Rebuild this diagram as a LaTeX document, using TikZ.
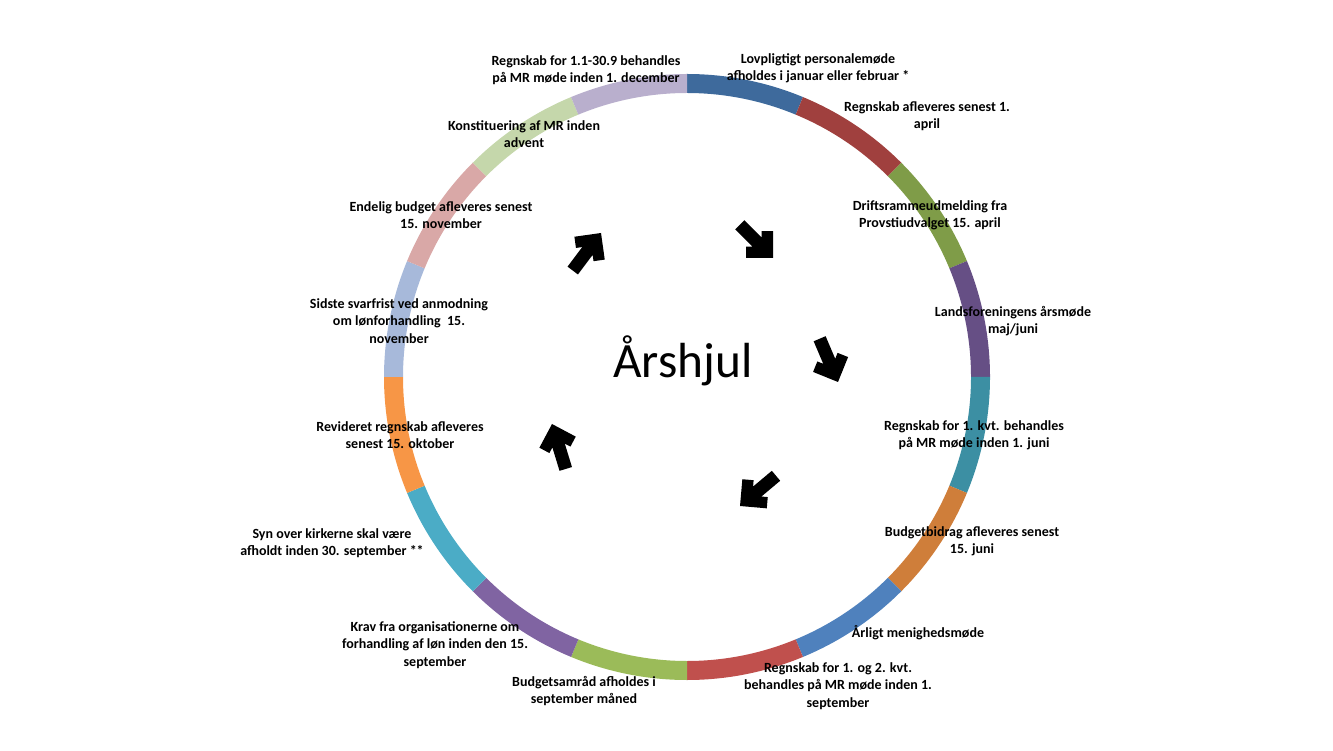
\documentclass[tikz,border=0pt]{standalone}
\usepackage{fontspec}
\setmainfont{Carlito}
\begin{document}
\begin{tikzpicture}[x=0.75pt,y=0.75pt,
  lbl/.style={align=center,inner sep=0pt,font=\fontsize{10.5}{12.9}\selectfont\bfseries},
  chev/.style={fill=black}]
\useasboundingbox (0,0) rectangle (1333,750);
\definecolor{s1}{HTML}{3E6A9C}
\definecolor{s2}{HTML}{A0403E}
\definecolor{s3}{HTML}{7F9C48}
\definecolor{s4}{HTML}{664F85}
\definecolor{s5}{HTML}{3C8FA3}
\definecolor{s6}{HTML}{CF7E3A}
\definecolor{s7}{HTML}{4F81BD}
\definecolor{s8}{HTML}{C0504D}
\definecolor{s9}{HTML}{9BBB59}
\definecolor{s10}{HTML}{8064A2}
\definecolor{s11}{HTML}{4BACC6}
\definecolor{s12}{HTML}{F79646}
\definecolor{s13}{HTML}{A7B9DA}
\definecolor{s14}{HTML}{D9A8A7}
\definecolor{s15}{HTML}{C5D7AB}
\definecolor{s16}{HTML}{B9AFCD}
\begin{scope}[shift={(687,373)}]
\foreach \i/\c in {0/s1,1/s2,2/s3,3/s4,4/s5,5/s6,6/s7,7/s8,8/s9,9/s10,10/s11,11/s12,12/s13,13/s14,14/s15,15/s16}{
  \pgfmathsetmacro{\sa}{90-22.5*\i}
  \pgfmathsetmacro{\ea}{90-22.5*(\i+1)}
  \fill[\c] (\sa:303) arc[start angle=\sa, end angle=\ea, radius=303]
     -- (\ea:284) arc[start angle=\ea, end angle=\sa, radius=284] -- cycle;
}
\end{scope}
% arrows
\foreach \tx/\ty/\ang in {773/492/-45, 838/368/-67, 740/244/-140, 552/326/107, 601/517/53}{
  \fill[chev,shift={(\tx,\ty)},rotate=\ang]
    (0,0) -- (-19,19) -- (-27,11) -- (-22.5,6.5) -- (-47,6.5) -- (-47,-6.5)
    -- (-22.5,-6.5) -- (-27,-11) -- (-19,-19) -- cycle;
}
\node[anchor=base,inner sep=0pt,font=\fontsize{37}{40}\selectfont] (title) at (683,372) {Årshjul};
\node[lbl] (l1) at (818,682) {Lovpligtigt personalemøde\\afholdes i januar eller februar *};
\node[lbl] (l2) at (927,634) {Regnskab afleveres senest 1.\\april};
\node[lbl] (l3) at (930,535) {Driftsrammeudmelding fra\\Provstiudvalget 15. april};
\node[lbl] (l4) at (1013,428.5) {Landsforeningens årsmøde\\maj/juni};
\node[lbl] (l5) at (974,314.5) {Regnskab for 1. kvt. behandles\\på MR møde inden 1. juni};
\node[lbl] (l6) at (972,208.5) {Budgetbidrag afleveres senest\\15. juni};
\node[lbl] (l7) at (918,117) {Årligt menighedsmøde};
\node[lbl] (l8) at (838,64) {Regnskab for 1. og 2. kvt.\\behandles på MR møde inden 1.\\september};
\node[lbl] (l9) at (584,59) {Budgetsamråd afholdes i\\september måned};
\node[lbl] (l10) at (435,105) {Krav fra organisationerne om\\forhandling af løn inden den 15.\\september};
\node[lbl] (l11) at (332,206.5) {Syn over kirkerne skal være\\afholdt inden 30. september **};
\node[lbl] (l12) at (400,314.5) {Revideret regnskab afleveres\\senest 15. oktober};
\node[lbl] (l13) at (399,429) {Sidste svarfrist ved anmodning\\om lønforhandling\ \ 15.\\november};
\node[lbl] (l14) at (441,535) {Endelig budget afleveres senest\\15. november};
\node[lbl] (l15) at (524,616) {Konstituering af MR inden\\advent};
\node[lbl] (l16) at (586,680) {Regnskab for 1.1-30.9 behandles\\på MR møde inden 1. december};
\end{tikzpicture}
\end{document}
